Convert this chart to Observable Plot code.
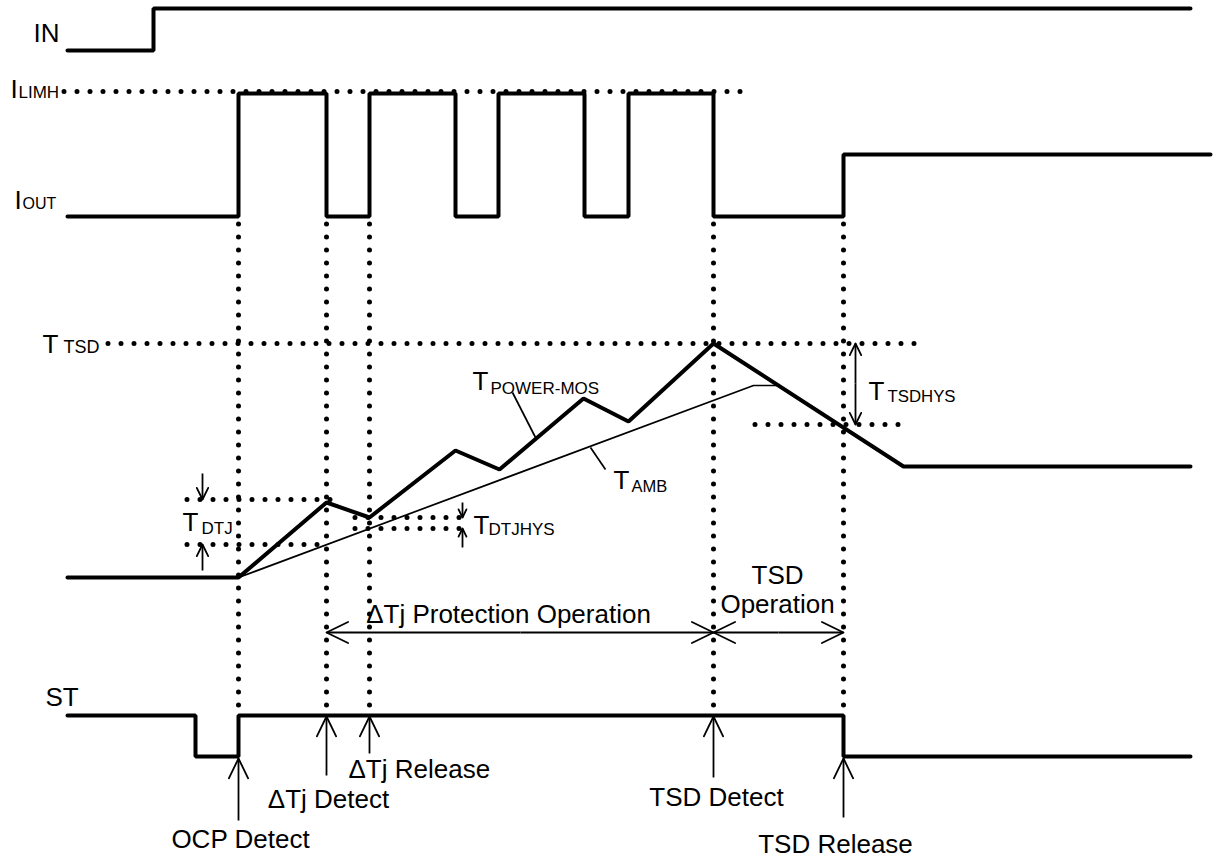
<!DOCTYPE html>
<html><head><meta charset="utf-8">
<script src="https://cdn.jsdelivr.net/npm/d3@7"></script>
<script src="https://cdn.jsdelivr.net/npm/@observablehq/plot@0.6"></script>
<style>body{margin:0;background:#fff}</style>
</head><body><div id="chart"></div>
<script>
// ---- waveform data (t = time position, v = level) ----
const inT = [67, 153, 1190];
const inV = [50, 8, 8];
const ioutT = [67, 238, 326, 369, 455, 498, 584, 628, 713, 843, 1210];
const ioutV = [216, 93, 216, 93, 216, 93, 216, 93, 216, 154, 154];
const stT = [67, 195, 238, 843, 1190];
const stV = [715, 756, 715, 756, 756];
const tPowerT = [67, 238, 326, 369, 455, 499, 583, 628, 713, 903, 1190];
const tPowerV = [577, 577, 502, 517, 450, 469, 398, 421, 343, 466, 466];
const tAmbT = [238, 753, 777];
const tAmbV = [577, 385, 385];

// ---- threshold (dotted) levels ----
const thrY  = [91, 343, 424, 499, 544, 517, 528];
const thrX1 = [64, 108, 755, 187, 187, 355, 355];
const thrX2 = [753, 922, 910, 338, 320, 467, 467];
// event times (vertical dotted lines)
const eventT = [238, 326, 369, 713, 843];
const eventTop = 224, eventBottom = 715;

// ---- annotation arrows: tail -> tip ----
const arrX1 = [238, 326, 369, 713, 843, 520, 520, 778, 778, 855, 855, 202, 202, 462, 462];
const arrY1 = [820, 775, 753, 777, 817, 632, 632, 632, 632, 383, 383, 473, 570, 502, 547];
const arrX2 = [238, 326, 369, 713, 843, 326, 713, 713, 843, 855, 855, 202, 202, 462, 462];
const arrY2 = [758, 716, 716, 716, 758, 632, 632, 632, 632, 343, 424, 499, 544, 517, 528];
const arrHead = [22, 22, 22, 22, 22, 24, 24, 24, 24, 13, 13, 13, 13, 9, 9];

// leader lines
const leadX1 = [512, 590], leadY1 = [392, 447], leadX2 = [535, 605], leadY2 = [437, 469];

// ---- labels ----
// left-anchored main labels
const leftText = ["IN", "I", "I", "T", "T", "T", "T", "T", "T", "ST", "ΔTj Release"];
const leftX = [33, 10, 14, 42, 182, 472, 613, 473, 868, 45, 348];
const leftY = [41, 97, 208, 352, 530, 389, 488, 533, 399, 705, 777];
// centred main labels
const midText = ["ΔTj Protection Operation", "TSD", "Operation", "OCP Detect", "ΔTj Detect", "TSD Detect", "TSD Release"];
const midX = [508, 777, 777, 240, 328, 716, 835];
const midY = [622, 583, 612, 847, 807, 805, 852];
// subscripts
const subText = ["LIMH", "OUT", "TSD", "DTJ", "POWER-MOS", "AMB", "DTJHYS", "TSDHYS"];
const subX = [18, 22, 63, 201, 490, 631, 488, 887];
const subY = [97, 208, 352, 533, 393, 491, 534, 401];
const subSize = [17, 16, 18, 17, 17, 16.5, 17, 16.8];

// ---- build tables ----
const toPts = (T, V) => T.map((t, i) => ({t, v: V[i]}));
const thr = thrY.map((y, i) => ({y, x1: thrX1[i], x2: thrX2[i]}));
const ev = eventT.map(t => ({t, y1: eventTop, y2: eventBottom}));
const shafts = arrX1.map((x, i) => ({x1: x, y1: arrY1[i], x2: arrX2[i], y2: arrY2[i]}));
const heads = [];
arrX1.forEach((x1, i) => {
  const x2 = arrX2[i], y2 = arrY2[i], y1 = arrY1[i];
  const a = Math.atan2(y1 - y2, x1 - x2), L = arrHead[i], h = 26 * Math.PI / 180;
  heads.push({id: i, t: x2 + L * Math.cos(a + h), v: y2 + L * Math.sin(a + h)});
  heads.push({id: i, t: x2, v: y2});
  heads.push({id: i, t: x2 + L * Math.cos(a - h), v: y2 + L * Math.sin(a - h)});
});
const leads = leadX1.map((x, i) => ({x1: x, y1: leadY1[i], x2: leadX2[i], y2: leadY2[i]}));
const lefts = leftText.map((s, i) => ({s, x: leftX[i], y: leftY[i]}));
const mids = midText.map((s, i) => ({s, x: midX[i], y: midY[i]}));
const subs = subText.map((s, i) => ({s, x: subX[i], y: subY[i], fs: subSize[i]}));

const font = "Liberation Sans, Arial, Helvetica, sans-serif";
const dotted = {stroke: "black", strokeWidth: 5, strokeDasharray: "0 13", strokeLinecap: "round", shapeRendering: "auto"};
const thick = {x: "t", y: "v", stroke: "black", strokeWidth: 4, strokeLinecap: "round", strokeLinejoin: "miter"};

const chart = Plot.plot({
  width: 1216, height: 858,
  margin: 0,
  x: {domain: [0, 1216], range: [0, 1216], axis: null},
  y: {domain: [0, 858], range: [0, 858], axis: null},
  marks: [
    Plot.ruleY(thr, {y: "y", x1: "x1", x2: "x2", ...dotted}),
    Plot.ruleX(ev, {x: "t", y1: "y1", y2: "y2", ...dotted}),
    Plot.line(toPts(inT, inV), {...thick, curve: "step-after"}),
    Plot.line(toPts(ioutT, ioutV), {...thick, curve: "step-after"}),
    Plot.line(toPts(stT, stV), {...thick, curve: "step-after"}),
    Plot.line(toPts(tPowerT, tPowerV), {...thick}),
    Plot.line(toPts(tAmbT, tAmbV), {x: "t", y: "v", stroke: "black", strokeWidth: 1.7}),
    Plot.link(shafts, {x1: "x1", y1: "y1", x2: "x2", y2: "y2", stroke: "black", strokeWidth: 1.8}),
    Plot.line(heads, {x: "t", y: "v", z: "id", stroke: "black", strokeWidth: 1.8}),
    Plot.link(leads, {x1: "x1", y1: "y1", x2: "x2", y2: "y2", stroke: "black", strokeWidth: 1.7}),
    Plot.text(lefts, {x: "x", y: "y", text: "s", textAnchor: "start", lineAnchor: "bottom",
      fontSize: 26, fontFamily: font, fill: "black"}),
    Plot.text(mids, {x: "x", y: "y", text: "s", textAnchor: "middle", lineAnchor: "bottom",
      fontSize: 26, fontFamily: font, fill: "black"}),
    Plot.text(subs, {x: "x", y: "y", text: "s", textAnchor: "start", lineAnchor: "bottom",
      fontSize: d => d.fs, fontFamily: font, fill: "black"})
  ]
});
document.getElementById("chart").append(chart);
</script>
</body></html>
